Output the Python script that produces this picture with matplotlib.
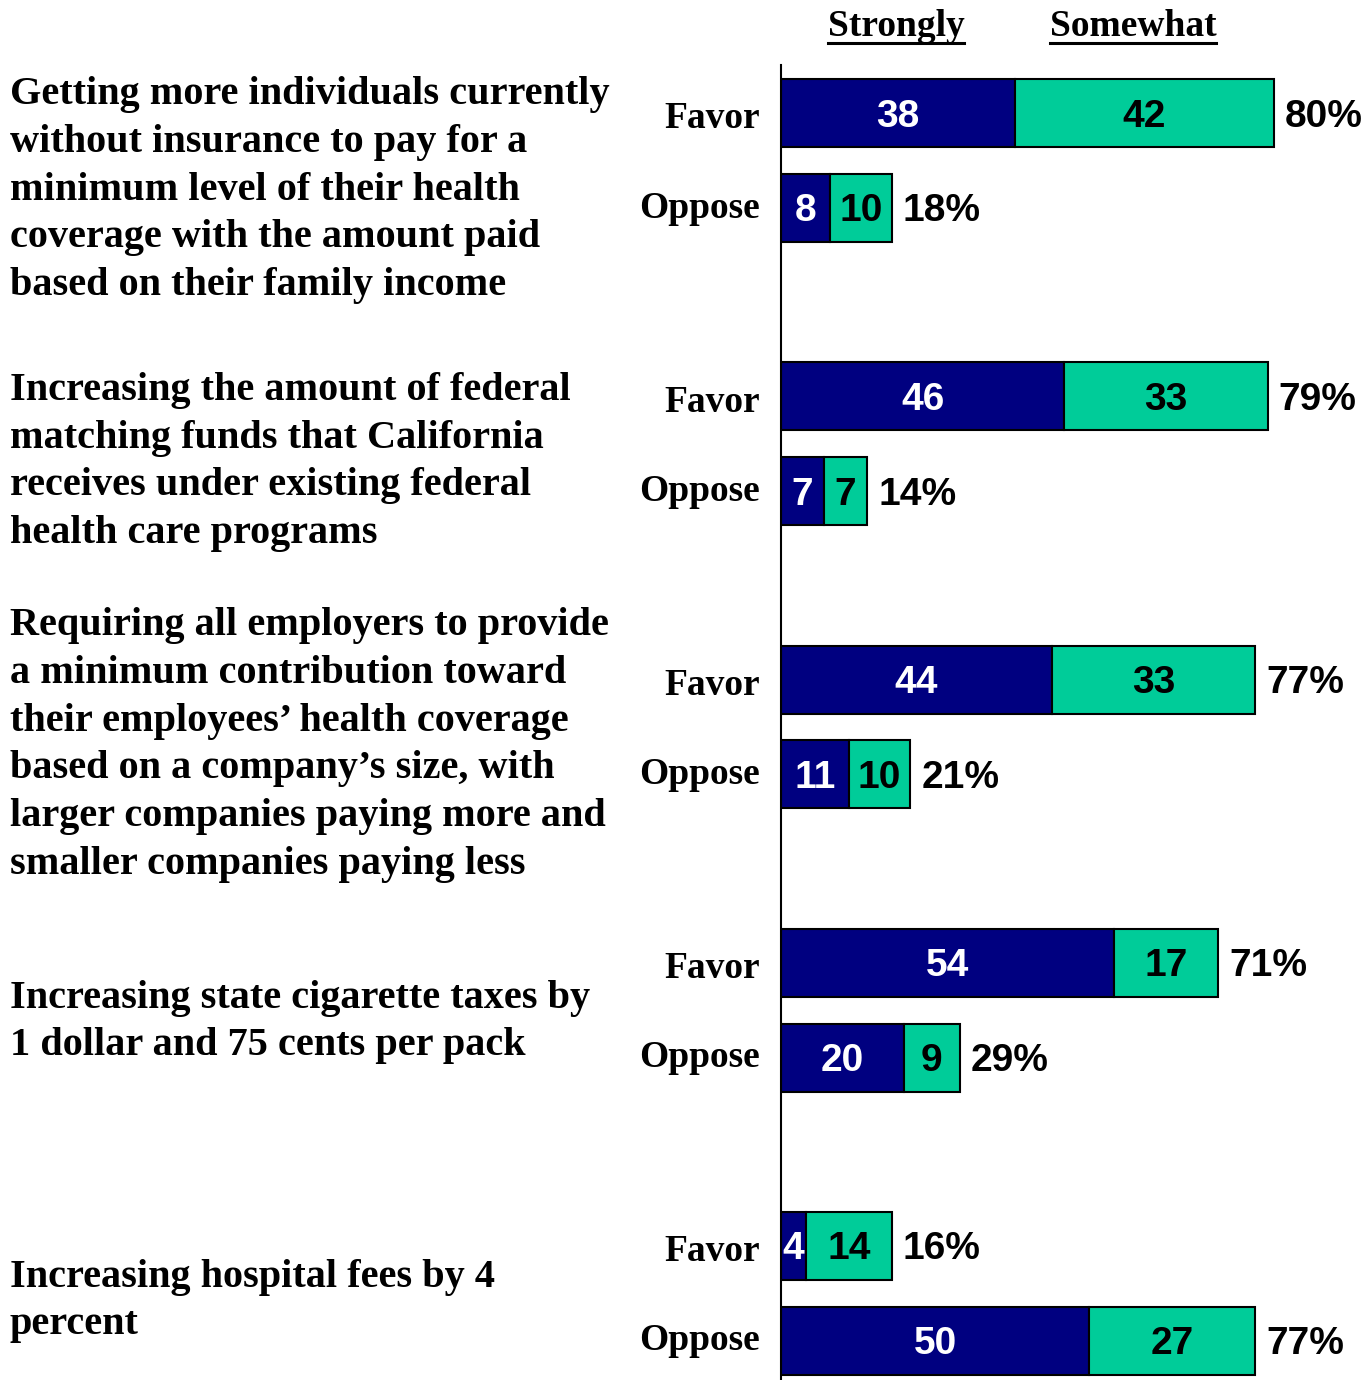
import matplotlib
matplotlib.use("Agg")
import matplotlib.pyplot as plt
import numpy as np

# data
questions = [
    "Getting more individuals currently\nwithout insurance to pay for a\nminimum level of their health\ncoverage with the amount paid\nbased on their family income",
    "Increasing the amount of federal\nmatching funds that California\nreceives under existing federal\nhealth care programs",
    "Requiring all employers to provide\na minimum contribution toward\ntheir employees\u2019 health coverage\nbased on a company\u2019s size, with\nlarger companies paying more and\nsmaller companies paying less",
    "Increasing state cigarette taxes by\n1 dollar and 75 cents per pack",
    "Increasing hospital fees by 4\npercent",
]
favor_strong = [38, 46, 44, 54, 4]
favor_some = [42, 33, 33, 17, 14]
favor_total = [80, 79, 77, 71, 16]
oppose_strong = [8, 7, 11, 20, 50]
oppose_some = [10, 7, 10, 9, 27]
oppose_total = [18, 14, 21, 29, 77]

NAVY = "#000080"
TEAL = "#00CC99"
SERIF = "Liberation Serif"
SANS = "Liberation Sans"

W, H = 1370, 1380
fig = plt.figure(figsize=(W / 100, H / 100), dpi=100)

# axes: left edge at the vertical line, data scaled so 80 units ~ 493 px
ax_left, ax_w = 781, 585
ax_top, ax_bot = 65, 1380
ax = fig.add_axes([ax_left / W, 1 - ax_bot / H, ax_w / W, (ax_bot - ax_top) / H])
ax.set_xlim(0, ax_w / 6.16)
ax.set_ylim(4.473, -0.17)
for s in ["top", "right", "bottom"]:
    ax.spines[s].set_visible(False)
ax.spines["left"].set_linewidth(1.5)
ax.set_xticks([])
ax.set_yticks([])

n = len(questions)
idx = np.arange(n)
y_fav = idx
y_opp = idx + 0.335
bh = 0.24
dy = 0.012  # nudge digits down to sit mid-bar

for ys, strong, some, tot in [(y_fav, favor_strong, favor_some, favor_total),
                              (y_opp, oppose_strong, oppose_some, oppose_total)]:
    ax.barh(ys, strong, height=bh, color=NAVY, edgecolor="black", linewidth=1.5)
    ax.barh(ys, some, left=strong, height=bh, color=TEAL, edgecolor="black", linewidth=1.5)
    for y, a, b, t in zip(ys, strong, some, tot):
        ax.text(a / 2, y + dy, str(a), color="white", ha="center", va="center",
                fontsize=28, fontweight="bold", family=SANS)
        ax.text(a + b / 2, y + dy, str(b), color="black", ha="center", va="center",
                fontsize=28, fontweight="bold", family=SANS)
        ax.text(a + b + 1.8, y + dy, f"{t}%", color="black", ha="left", va="center",
                fontsize=28, fontweight="bold", family=SANS)

# Favor / Oppose labels
for i in range(n):
    ax.text(-3.4, y_fav[i] + 0.02, "Favor", ha="right", va="center", fontsize=27,
            fontweight="bold", family=SERIF)
    ax.text(-3.4, y_opp[i], "Oppose", ha="right", va="center", fontsize=27,
            fontweight="bold", family=SERIF)

# question texts, vertical block centres in pixels
q_centres = [190, 462, 745, 1022, 1301]
for q, yc in zip(questions, q_centres):
    fig.text(10 / W, 1 - yc / H, q, ha="left", va="center", fontsize=29,
             fontweight="bold", family=SERIF, linespacing=1.38)

# underlined headers
fig.canvas.draw()
renderer = fig.canvas.get_renderer()
for label, xc in [("Strongly", 896), ("Somewhat", 1133)]:
    t = fig.text(xc / W, 1 - 26 / H, label, ha="center", va="center", fontsize=27,
                 fontweight="bold", family=SERIF)
    bb = t.get_window_extent(renderer)
    yl = (H - 43) / H
    fig.add_artist(plt.Line2D([bb.x0 / W, bb.x1 / W], [yl, yl], color="black",
                              linewidth=2.2, transform=fig.transFigure))

fig.savefig("out.png", dpi=100)
